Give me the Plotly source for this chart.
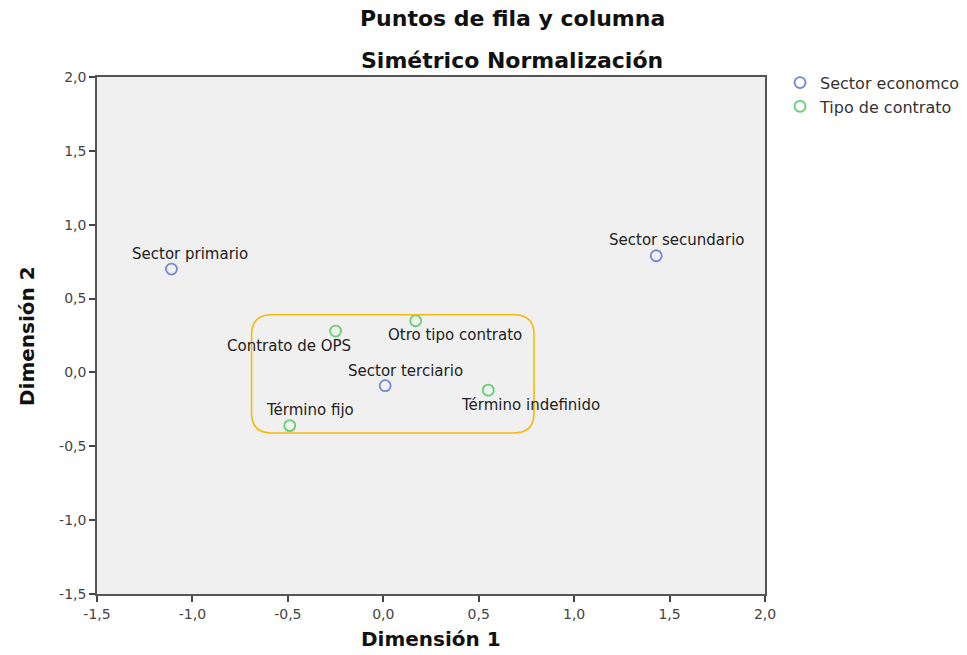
import plotly.graph_objects as go

# Row points (sector) and column points (contract type)
sector_labels = ["Sector primario", "Sector secundario", "Sector terciario"]
sector_x = [-1.11, 1.43, 0.01]
sector_y = [0.70, 0.79, -0.09]

contrato_labels = ["Contrato de OPS", "Otro tipo contrato", "Término indefinido", "Término fijo"]
contrato_x = [-0.25, 0.17, 0.55, -0.49]
contrato_y = [0.28, 0.35, -0.12, -0.36]

tick_vals = [-1.5, -1.0, -0.5, 0.0, 0.5, 1.0, 1.5, 2.0]
tick_text = ["-1,5", "-1,0", "-0,5", "0,0", "0,5", "1,0", "1,5", "2,0"]

BLUE = "#7486d4"
GREEN = "#63cf73"
FONT = "DejaVu Sans, Verdana, sans-serif"

MARGIN_L, MARGIN_R, MARGIN_T, MARGIN_B = 97, 202, 77, 61
W, H = 967, 655
plot_w = W - MARGIN_L - MARGIN_R
plot_h = H - MARGIN_T - MARGIN_B


def px_x(p):
    return (p - MARGIN_L) / plot_w


def px_y(p):
    return (H - MARGIN_B - p) / plot_h


fig = go.Figure()
fig.add_trace(go.Scatter(
    x=sector_x, y=sector_y, mode="markers", name="Sector economco",
    marker=dict(symbol="circle-open", size=11, color=BLUE, line=dict(width=1.8)),
))
fig.add_trace(go.Scatter(
    x=contrato_x, y=contrato_y, mode="markers", name="Tipo de contrato",
    marker=dict(symbol="circle-open", size=11, color=GREEN, line=dict(width=1.8)),
))

# label offsets (pixels) relative to each point
label_shift = {
    "Sector primario": (19, 15),
    "Sector secundario": (21, 16),
    "Sector terciario": (20, 15),
    "Contrato de OPS": (-47, -15),
    "Otro tipo contrato": (39, -14),
    "Término indefinido": (42, -15),
    "Término fijo": (20, 16),
}
for labels, xs, ys in [(sector_labels, sector_x, sector_y),
                       (contrato_labels, contrato_x, contrato_y)]:
    for lab, x, y in zip(labels, xs, ys):
        dx, dy = label_shift[lab]
        fig.add_annotation(x=x, y=y, text=lab, showarrow=False,
                           xshift=dx, yshift=dy, xanchor="center", yanchor="middle",
                           font=dict(family=FONT, size=15, color="#222222"))

# rounded highlight box around the central cluster
x0, x1, y0, y1 = -0.69, 0.79, -0.41, 0.39
rx, ry = 0.105, 0.135
path = (f"M {x0+rx},{y1} L {x1-rx},{y1} Q {x1},{y1} {x1},{y1-ry} "
        f"L {x1},{y0+ry} Q {x1},{y0} {x1-rx},{y0} "
        f"L {x0+rx},{y0} Q {x0},{y0} {x0},{y0+ry} "
        f"L {x0},{y1-ry} Q {x0},{y1} {x0+rx},{y1} Z")
fig.add_shape(type="path", path=path, xref="x", yref="y",
              line=dict(color="#f5b90f", width=1.6))

# titles
title_font = dict(family=FONT, size=22, color="#111111")
fig.add_annotation(x=px_x(512), y=px_y(19), xref="paper", yref="paper",
                   text="<b>Puntos de fila y columna</b>", showarrow=False,
                   xanchor="center", yanchor="middle", font=title_font)
fig.add_annotation(x=px_x(512), y=px_y(60), xref="paper", yref="paper",
                   text="<b>Simétrico Normalización</b>", showarrow=False,
                   xanchor="center", yanchor="middle", font=title_font)
fig.add_annotation(x=px_x(431), y=px_y(639), xref="paper", yref="paper",
                   text="<b>Dimensión 1</b>", showarrow=False,
                   xanchor="center", yanchor="middle",
                   font=dict(family=FONT, size=20, color="#111111"))
fig.add_annotation(x=px_x(27), y=px_y(336), xref="paper", yref="paper",
                   text="<b>Dimensión 2</b>", showarrow=False, textangle=-90,
                   xanchor="center", yanchor="middle",
                   font=dict(family=FONT, size=20, color="#111111"))

fig.update_layout(
    width=W, height=H,
    margin=dict(l=MARGIN_L, r=MARGIN_R, t=MARGIN_T, b=MARGIN_B, autoexpand=False),
    paper_bgcolor="white", plot_bgcolor="#f0f0f0",
    font=dict(family=FONT, size=13, color="#444444"),
    showlegend=True,
    legend=dict(x=1.0225, y=1.022, xanchor="left", yanchor="top",
                font=dict(family=FONT, size=16, color="#333333"),
                bgcolor="rgba(0,0,0,0)", itemwidth=30, tracegroupgap=0),
)

axis_common = dict(
    showgrid=False, zeroline=False, showline=True, linecolor="#555555", linewidth=1.5,
    mirror=True, ticks="outside", ticklen=6, tickwidth=1.5, tickcolor="#444444",
    tickvals=tick_vals, ticktext=tick_text,
    tickfont=dict(family=FONT, size=14, color="#444444"),
)
fig.update_xaxes(range=[-1.5, 2.0], **axis_common)
fig.update_yaxes(range=[-1.5, 2.0], **axis_common)

fig.write_html("out.html")
